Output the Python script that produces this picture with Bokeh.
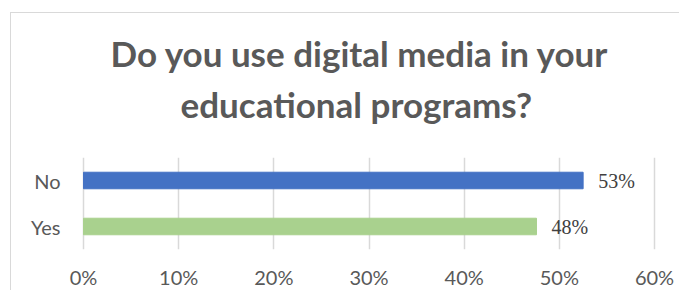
from bokeh.plotting import figure
from bokeh.models import (Range1d, FactorRange, Title, NumeralTickFormatter,
                          FixedTicker, LabelSet, ColumnDataSource)
from bokeh.embed import file_html
from bokeh.resources import INLINE

# ---- data ----
categories = ["Yes", "No"]
values = [0.476, 0.525]
value_labels = ["48%", "53%"]
bar_colors = ["#A9D18E", "#4472C4"]
x_ticks = [0, 0.1, 0.2, 0.3, 0.4, 0.5, 0.6]
title_lines = ["Do you use digital media in your", "educational programs?"]

FONT = "Lato"
src = ColumnDataSource(dict(cat=categories, val=values, lab=value_labels, col=bar_colors))

W, H = 669, 278
p = figure(width=W, height=H,
           y_range=FactorRange(factors=categories, range_padding=0),
           x_range=Range1d(-0.0105, 0.6105),
           output_backend="svg", toolbar_location=None,
           min_border_left=62, min_border_right=16,
           min_border_bottom=39, min_border_top=144)
p.margin = (12, 0, 0, 10)
p.styles = {"border-left": "1px solid #d9d9d9", "border-top": "1px solid #d9d9d9"}

p.hbar(y="cat", right="val", left=0, height=0.36, color="col", source=src)

p.add_layout(LabelSet(x="val", y="cat", text="lab", source=src, x_offset=15,
                      text_baseline="middle", text_align="left",
                      text_font=FONT, text_font_size="20px", text_color="#404040"))

# spacer between plot area and title (first added sits nearest to the plot)
p.add_layout(Title(text=" ", text_font_size="1px", standoff=30), "above")
# chart title: two lines
p.add_layout(Title(text=title_lines[1], align="left", offset=107, standoff=0,
                   text_font=FONT, text_font_size="35px", text_font_style="bold",
                   text_color="#595959"), "above")
p.add_layout(Title(text=title_lines[0], align="left", offset=37, standoff=14,
                   text_font=FONT, text_font_size="35px", text_font_style="bold",
                   text_color="#595959"), "above")

p.xaxis.ticker = FixedTicker(ticks=x_ticks)
p.xaxis.formatter = NumeralTickFormatter(format="0%")
for ax in (p.xaxis, p.yaxis):
    ax.axis_line_color = None
    ax.major_tick_line_color = None
    ax.major_tick_out = 0
    ax.major_tick_in = 0
    ax.minor_tick_line_color = None
    ax.major_label_text_font = FONT
    ax.major_label_text_font_size = "20px"
    ax.major_label_text_color = "#595959"
p.xaxis.major_label_standoff = 15
p.yaxis.major_label_standoff = 13

p.xgrid.ticker = FixedTicker(ticks=x_ticks)
p.xgrid.grid_line_color = "#d9d9d9"
p.xgrid.grid_line_width = 1.5
p.ygrid.grid_line_color = None
p.outline_line_color = None

open("out.html", "w").write(file_html(p, INLINE))
